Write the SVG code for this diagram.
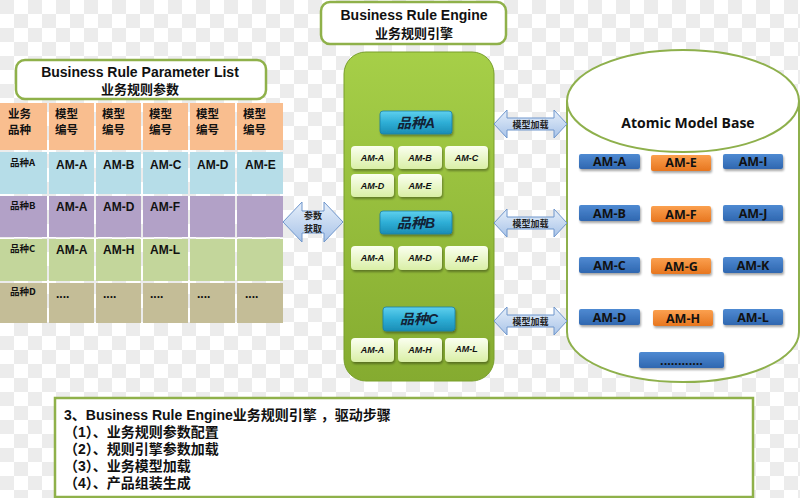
<svg xmlns="http://www.w3.org/2000/svg" width="800" height="498" viewBox="0 0 800 498">
<defs>
<pattern id="chk" x="0" y="0" width="28" height="28" patternUnits="userSpaceOnUse">
<rect width="28" height="28" fill="#ffffff"/>
<rect x="0" y="0" width="14" height="14" fill="#ececec"/>
<rect x="14" y="14" width="14" height="14" fill="#ececec"/>
</pattern>
<linearGradient id="gEngine" x1="0" y1="0" x2="0" y2="1">
<stop offset="0" stop-color="#a6cf48"/>
<stop offset="1" stop-color="#85ab30"/>
</linearGradient>
<linearGradient id="gBtn" x1="0" y1="0" x2="0" y2="1">
<stop offset="0" stop-color="#5fd0ee"/>
<stop offset="0.5" stop-color="#2eaed6"/>
<stop offset="1" stop-color="#1b8db5"/>
</linearGradient>
<linearGradient id="gSmall" x1="0" y1="0" x2="0" y2="1">
<stop offset="0" stop-color="#fbfff0"/>
<stop offset="1" stop-color="#d9efa6"/>
</linearGradient>
<linearGradient id="gArrow" x1="0" y1="0" x2="0" y2="1">
<stop offset="0" stop-color="#e6effa"/>
<stop offset="1" stop-color="#a8c3e8"/>
</linearGradient>
<linearGradient id="gBlue" x1="0" y1="0" x2="0" y2="1">
<stop offset="0" stop-color="#4f8ad2"/>
<stop offset="1" stop-color="#2f67b0"/>
</linearGradient>
<linearGradient id="gOrange" x1="0" y1="0" x2="0" y2="1">
<stop offset="0" stop-color="#fba04f"/>
<stop offset="1" stop-color="#e7761f"/>
</linearGradient>
<filter id="sh" x="-20%" y="-30%" width="140%" height="170%">
<feDropShadow dx="1" dy="2" stdDeviation="1.2" flood-color="#000" flood-opacity="0.35"/>
</filter>
</defs>
<style>
.t{font-family:"Open Sans","Noto Sans CJK SC",sans-serif;font-weight:bold;fill:#111}
.s{font-family:"Liberation Sans","Noto Sans CJK SC",sans-serif;font-weight:bold;fill:#111}
.cj{font-family:"Noto Sans CJK SC",sans-serif;font-weight:bold;fill:#111}
.am{font-family:"Liberation Sans",Arial,sans-serif;font-weight:bold;fill:#111;font-size:12px}
.ami{font-family:"Liberation Sans",Arial,sans-serif;font-weight:bold;font-style:italic;fill:#111;font-size:9px;text-anchor:middle}
.amb{font-family:"Open Sans","Liberation Sans",sans-serif;font-weight:bold;fill:#111;font-size:12.5px;text-anchor:middle}
.title{fill:#ffffff;stroke:#8fb14a;stroke-width:2.5}
.small{fill:url(#gSmall);filter:url(#sh)}
.btn{fill:url(#gBtn);stroke:#1a7ea3;stroke-width:0.8;filter:url(#sh)}
.btnt{font-family:"Liberation Sans","Noto Sans CJK SC",sans-serif;font-style:italic;font-weight:bold;font-size:14px;fill:#122236;text-anchor:middle}
.arr{fill:url(#gArrow);stroke:#6f96cc;stroke-width:1}
.arrt{font-family:"Noto Sans CJK SC",sans-serif;font-weight:bold;font-size:9px;fill:#222;text-anchor:middle}
.blue{fill:url(#gBlue);filter:url(#sh)}
.orange{fill:url(#gOrange);filter:url(#sh)}
</style>
<rect width="800" height="498" fill="url(#chk)"/>

<g id="engine-title">
<rect class="title" x="321" y="2" width="185" height="42" rx="9"/>
<text class="s" x="414" y="20" font-size="14" text-anchor="middle">Business Rule Engine</text>
<text class="cj" x="414" y="38" font-size="13" text-anchor="middle">业务规则引擎</text>
</g>

<g id="param-title">
<rect class="title" x="16" y="60" width="250" height="39" rx="9"/>
<text class="s" x="140" y="77" font-size="14" text-anchor="middle">Business Rule Parameter List</text>
<text class="cj" x="140" y="94" font-size="13" text-anchor="middle">业务规则参数</text>
</g>

<g id="param-table">
<g fill="#f9be8f">
<rect x="0" y="103" width="47" height="47"/><rect x="49" y="103" width="45" height="47"/><rect x="96" y="103" width="45" height="47"/><rect x="143" y="103" width="45" height="47"/><rect x="190" y="103" width="45" height="47"/><rect x="237" y="103" width="46" height="47"/>
</g>
<g fill="#b6dde8">
<rect x="0" y="152" width="47" height="42"/><rect x="49" y="152" width="45" height="42"/><rect x="96" y="152" width="45" height="42"/><rect x="143" y="152" width="45" height="42"/><rect x="190" y="152" width="45" height="42"/><rect x="237" y="152" width="46" height="42"/>
</g>
<g fill="#b2a1c7">
<rect x="0" y="196" width="47" height="41"/><rect x="49" y="196" width="45" height="41"/><rect x="96" y="196" width="45" height="41"/><rect x="143" y="196" width="45" height="41"/><rect x="190" y="196" width="45" height="41"/><rect x="237" y="196" width="46" height="41"/>
</g>
<g fill="#c3d69b">
<rect x="0" y="239" width="47" height="42"/><rect x="49" y="239" width="45" height="42"/><rect x="96" y="239" width="45" height="42"/><rect x="143" y="239" width="45" height="42"/><rect x="190" y="239" width="45" height="42"/><rect x="237" y="239" width="46" height="42"/>
</g>
<g fill="#c4bd97">
<rect x="0" y="283" width="47" height="40"/><rect x="49" y="283" width="45" height="40"/><rect x="96" y="283" width="45" height="40"/><rect x="143" y="283" width="45" height="40"/><rect x="190" y="283" width="45" height="40"/><rect x="237" y="283" width="46" height="40"/>
</g>
<g class="cj" font-size="11.5">
<text x="8" y="118">业务</text><text x="8" y="134">品种</text>
<text x="55" y="118">模型</text><text x="55" y="134">编号</text>
<text x="102" y="118">模型</text><text x="102" y="134">编号</text>
<text x="149" y="118">模型</text><text x="149" y="134">编号</text>
<text x="196" y="118">模型</text><text x="196" y="134">编号</text>
<text x="243" y="118">模型</text><text x="243" y="134">编号</text>
</g>
<g class="cj" font-size="9.5">
<text x="10" y="166">品种A</text>
<text x="10" y="209">品种B</text>
<text x="10" y="252">品种C</text>
<text x="10" y="295">品种D</text>
</g>
<g class="am">
<text x="56" y="169">AM-A</text><text x="103" y="169">AM-B</text><text x="150" y="169">AM-C</text><text x="197" y="169">AM-D</text><text x="245" y="169">AM-E</text>
<text x="56" y="211">AM-A</text><text x="103" y="211">AM-D</text><text x="150" y="211">AM-F</text>
<text x="56" y="254">AM-A</text><text x="103" y="254">AM-H</text><text x="150" y="254">AM-L</text>
<text x="56" y="298">....</text><text x="103" y="298">....</text><text x="150" y="298">....</text><text x="197" y="298">....</text><text x="245" y="298">....</text>
</g>
</g>

<g id="engine">
<rect x="344" y="52" width="150" height="329" rx="22" fill="url(#gEngine)" stroke="#789f2b" stroke-width="1"/>
</g>

<g id="variety-a">
<rect class="btn" x="380" y="111" width="72" height="23" rx="3"/>
<text class="btnt" x="416" y="128">品种A</text>
<rect class="small" x="351" y="146" width="43" height="23" rx="4"/><text class="ami" x="372.5" y="161">AM-A</text>
<rect class="small" x="398" y="146" width="44" height="23" rx="4"/><text class="ami" x="420" y="161">AM-B</text>
<rect class="small" x="445" y="146" width="43" height="23" rx="4"/><text class="ami" x="466.5" y="161">AM-C</text>
<rect class="small" x="351" y="174" width="43" height="23" rx="4"/><text class="ami" x="372.5" y="189">AM-D</text>
<rect class="small" x="398" y="174" width="44" height="23" rx="4"/><text class="ami" x="420" y="189">AM-E</text>
</g>

<g id="variety-b">
<rect class="btn" x="380" y="211" width="72" height="23" rx="3"/>
<text class="btnt" x="416" y="228">品种B</text>
<rect class="small" x="351" y="246" width="43" height="24" rx="4"/><text class="ami" x="372.5" y="261">AM-A</text>
<rect class="small" x="398" y="246" width="44" height="24" rx="4"/><text class="ami" x="420" y="261">AM-D</text>
<rect class="small" x="445" y="246" width="43" height="24" rx="4"/><text class="ami" x="466.5" y="262">AM-F</text>
</g>

<g id="variety-c">
<rect class="btn" x="383" y="307" width="72" height="24" rx="3"/>
<text class="btnt" x="419" y="324">品种C</text>
<rect class="small" x="351" y="338" width="43" height="24" rx="4"/><text class="ami" x="372.5" y="353">AM-A</text>
<rect class="small" x="398" y="338" width="44" height="24" rx="4"/><text class="ami" x="420" y="353">AM-H</text>
<rect class="small" x="445" y="338" width="43" height="24" rx="4"/><text class="ami" x="466.5" y="352">AM-L</text>
</g>

<g id="atomic-base">
<path d="M567,101 L567,332 A116,50 0 0 0 799,332 L799,101" fill="#ffffff" stroke="#8eb04c" stroke-width="2"/>
<ellipse cx="683" cy="101" rx="116" ry="51" fill="#ffffff" stroke="#8eb04c" stroke-width="2"/>
<text class="t" x="688" y="128" font-size="14" text-anchor="middle">Atomic Model Base</text>
<rect class="blue" x="579" y="154" width="61" height="15" rx="2"/><text class="amb" x="609.5" y="166">AM-A</text>
<rect class="orange" x="651" y="155" width="60" height="16" rx="2"/><text class="amb" x="681" y="167">AM-E</text>
<rect class="blue" x="723" y="154" width="60" height="15" rx="2"/><text class="amb" x="753" y="166">AM-I</text>
<rect class="blue" x="579" y="205" width="61" height="16" rx="2"/><text class="amb" x="609.5" y="218">AM-B</text>
<rect class="orange" x="651" y="206" width="60" height="16" rx="2"/><text class="amb" x="681" y="219">AM-F</text>
<rect class="blue" x="723" y="205" width="60" height="16" rx="2"/><text class="amb" x="753" y="218">AM-J</text>
<rect class="blue" x="579" y="257" width="61" height="16" rx="2"/><text class="amb" x="609.5" y="270">AM-C</text>
<rect class="orange" x="651" y="258" width="60" height="16" rx="2"/><text class="amb" x="681" y="271">AM-G</text>
<rect class="blue" x="723" y="257" width="60" height="16" rx="2"/><text class="amb" x="753" y="270">AM-K</text>
<rect class="blue" x="579" y="309" width="61" height="16" rx="2"/><text class="amb" x="609.5" y="322">AM-D</text>
<rect class="orange" x="653" y="310" width="60" height="16" rx="2"/><text class="amb" x="683" y="323">AM-H</text>
<rect class="blue" x="723" y="309" width="60" height="16" rx="2"/><text class="amb" x="753" y="322">AM-L</text>
<rect class="blue" x="639" y="352" width="85" height="16" rx="2"/><text class="amb" x="681.5" y="365">............</text>
</g>

<g id="connectors">
<path class="arr" d="M283,222 L302,202 L302,211 L324,211 L324,202 L343,222 L324,242 L324,233 L302,233 L302,242 Z"/>
<text class="arrt" x="313" y="219">参数</text>
<text class="arrt" x="313" y="232">获取</text>
<path class="arr" d="M494,124 L507,110 L507,118 L554,118 L554,110 L567,124 L554,138 L554,130 L507,130 L507,138 Z"/>
<text class="arrt" x="530.5" y="127.5">模型加载</text>
<path class="arr" d="M494,223 L507,209 L507,217 L554,217 L554,209 L567,223 L554,237 L554,229 L507,229 L507,237 Z"/>
<text class="arrt" x="530.5" y="226.5">模型加载</text>
<path class="arr" d="M494,321 L507,307 L507,315 L554,315 L554,307 L567,321 L554,335 L554,327 L507,327 L507,335 Z"/>
<text class="arrt" x="530.5" y="324.5">模型加载</text>
</g>

<g id="steps">
<rect x="55" y="398" width="698" height="99" fill="#ffffff" stroke="#8fb14a" stroke-width="2.5"/>
<g class="s" font-size="14">
<text x="64" y="420">3、Business Rule Engine业务规则引擎 ，驱动步骤</text>
<text x="64" y="437">（1）、业务规则参数配置</text>
<text x="64" y="454">（2）、规则引擎参数加载</text>
<text x="64" y="471">（3）、业务模型加载</text>
<text x="64" y="488">（4）、产品组装生成</text>
</g>
</g>
</svg>
